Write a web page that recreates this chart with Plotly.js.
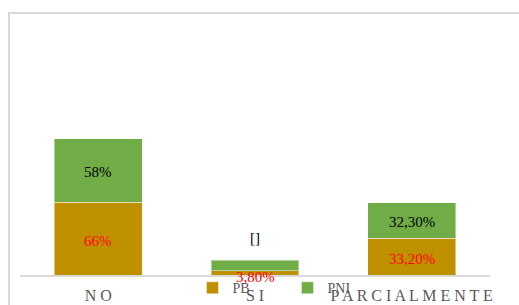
<!DOCTYPE html>
<html>
<head>
<meta charset="utf-8">
<script src="https://cdn.plot.ly/plotly-3.0.1.min.js"></script>
<style>html,body{margin:0;padding:0;background:#fff}#chart{width:519px;height:305px}</style>
</head>
<body>
<div id="chart"></div>
<script>
var categories = ['NO', 'SI', 'PARCIALMENTE'];
var pbValues = [66, 3.8, 33.2];
var pniValues = [58, 9.7, 32.3];
var pbLabels = ['66%', '3,80%', '33,20%'];
var pniLabels = ['58%', '[]', '32,30%'];
var seriesNames = ['PB', 'PNI'];

var font = 'Liberation Serif';
var traces = [
  {type: 'bar', name: seriesNames[0], x: categories, y: pbValues,
   marker: {color: '#BF9000', line: {color: 'rgba(255,255,255,0.45)', width: 1}}, hoverinfo: 'none'},
  {type: 'bar', name: seriesNames[1], x: categories, y: pniValues,
   marker: {color: '#70AD47', line: {color: 'rgba(255,255,255,0.45)', width: 1}}, hoverinfo: 'none'}
];

var annotations = [];
categories.forEach(function (c, i) {
  var smallPb = pbValues[i] < 8;
  annotations.push({x: c, y: pbValues[i] / 2, text: pbLabels[i], showarrow: false,
    yshift: smallPb ? -4 : -2, font: {family: font, size: 15, color: '#FF0000'}});
  var smallPni = pniValues[i] < 15;
  annotations.push({x: c, y: smallPni ? pbValues[i] + pniValues[i] : pbValues[i] + pniValues[i] / 2,
    text: pniLabels[i], showarrow: false, yshift: smallPni ? 22 : -1,
    font: {family: font, size: 15, color: '#000000'}});
});

var layout = {
  width: 519, height: 305,
  margin: {l: 20, r: 29, t: 55, b: 30, autoexpand: false},
  barmode: 'stack', bargap: 0.44,
  paper_bgcolor: '#ffffff', plot_bgcolor: '#ffffff',
  font: {family: font, color: '#595959'},
  xaxis: {tickmode: 'array', tickvals: categories,
    ticktext: categories.map(function (c) { return c.split('').join(' '); }),
    tickfont: {family: font, size: 16, color: '#595959'}, ticklabelstandoff: 5,
    showline: true, linecolor: '#D9D9D9', linewidth: 2, ticks: '', fixedrange: true,
    showgrid: false, zeroline: false, automargin: false},
  yaxis: {range: [0, 200], visible: false, showgrid: false, zeroline: false, fixedrange: true, automargin: false},
  showlegend: true,
  legend: {orientation: 'h', x: 0.367, xanchor: 'left', yref: 'container', y: 0.055, yanchor: 'middle',
    entrywidth: 50, entrywidthmode: 'pixels', bgcolor: 'rgba(0,0,0,0)',
    font: {family: font, size: 14, color: '#595959'}, traceorder: 'normal'},
  annotations: annotations,
  shapes: [{type: 'rect', xref: 'paper', yref: 'paper', x0: -0.0234, x1: 1.1, y0: -0.2, y1: 1.191,
    line: {color: '#D9D9D9', width: 2}, fillcolor: 'rgba(0,0,0,0)', layer: 'below'}]
};

Plotly.newPlot('chart', traces, layout, {displayModeBar: false, staticPlot: true});
</script>
</body>
</html>
